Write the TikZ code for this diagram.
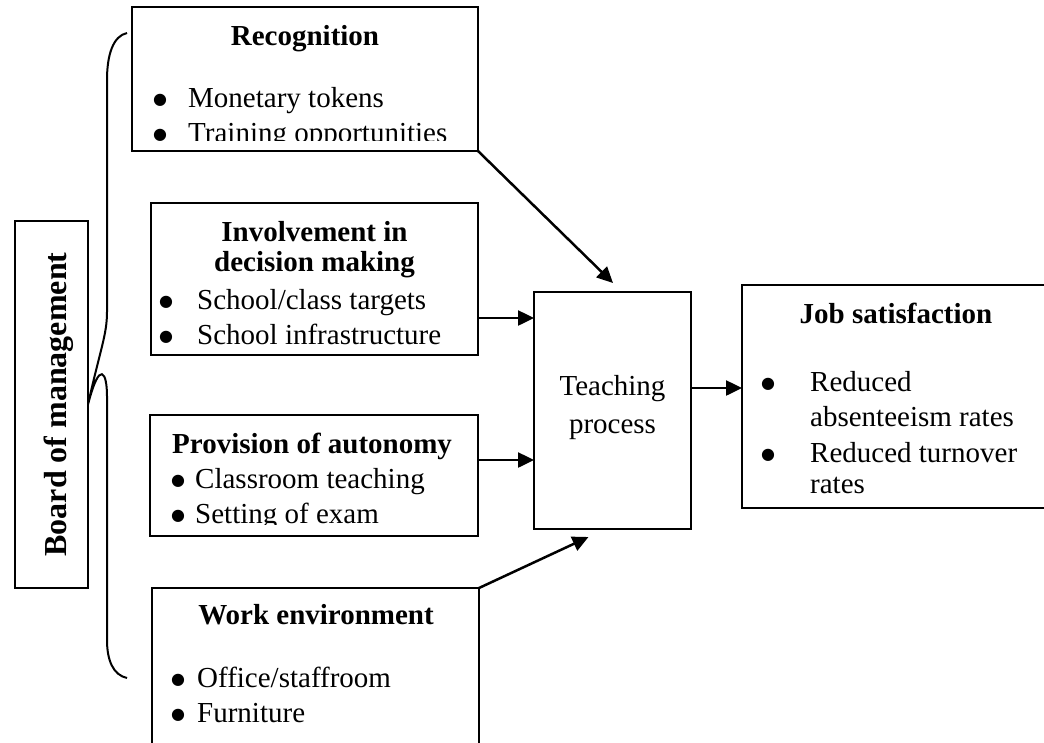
\documentclass[tikz,border=0pt]{standalone}
\usepackage{fontspec}
\setmainfont{Liberation Serif}
\newfontfamily\djvfont{DejaVu Sans}
\usetikzlibrary{arrows.meta,calc}
\begin{document}
\begin{tikzpicture}[x=1pt,y=-1pt,
  box/.style={draw, line width=2pt, inner sep=0pt, outer sep=0pt},
  txt/.style={inner sep=0pt, font=\fontsize{29}{29}\selectfont},
  btxt/.style={inner sep=0pt, font=\fontsize{29}{29}\selectfont\bfseries},
  bul/.style={inner sep=0pt, font=\djvfont\fontsize{16}{16}\selectfont, anchor=base, yshift=2.5pt},
  arr/.style={line width=2.5pt, -{Triangle[length=16pt,width=15pt]}},
  bracestyle/.style={line width=2pt}]
\useasboundingbox (0,0) rectangle (1044,742);
\clip (0,0) rectangle (1044,742);

% boxes
\node[box, minimum width=346pt, minimum height=144pt] (rec) at (305,79) {};
\node[box, minimum width=327pt, minimum height=152pt] (inv) at (314.5,279) {};
\node[box, minimum width=328pt, minimum height=121pt] (prov) at (314,475.5) {};
\node[box, minimum width=327pt, minimum height=182pt] (work) at (315.5,679) {};
\node[box, minimum width=73pt, minimum height=367pt] (board) at (51.5,404.5) {};
\node[box, minimum width=157pt, minimum height=237pt] (teach) at (612.5,410.5) {};
\node[box, minimum width=318pt, minimum height=223pt] (job) at (901,396.5) {};

% Board text
\node[inner sep=0pt, font=\fontsize{32}{32}\selectfont\bfseries, rotate=90, anchor=base] (boardT) at (66,404.5) {Board of management};

% Recognition
\begin{scope}
\clip (132,7) rectangle (478,140);
\node[btxt, anchor=base] (recT) at (305,45) {Recognition};
\node[bul] (recb1) at (160,107) {●};
\node[txt, anchor=base west] (rec1) at (188,107) {Monetary tokens};
\node[bul] (recb2) at (160,142) {●};
\node[txt, anchor=base west] (rec2) at (188,142) {Training opportunities};
\end{scope}

% Involvement
\begin{scope}
\clip (151,203) rectangle (478,345);
\node[btxt, anchor=base] (invT1) at (314.5,241) {Involvement in};
\node[btxt, anchor=base] (invT2) at (314.5,271) {decision making};
\node[bul] (invb1) at (166,309) {●};
\node[txt, anchor=base west] (inv1) at (197,309) {School/class targets};
\node[bul] (invb2) at (166,344) {●};
\node[txt, anchor=base west] (inv2) at (197,344) {School infrastructure};
\end{scope}

% Provision
\begin{scope}
\clip (150,415) rectangle (478,524);
\node[btxt, anchor=base west] (provT) at (172,453) {Provision of autonomy};
\node[bul] (provb1) at (178,488) {●};
\node[txt, anchor=base west] (prov1) at (195,488) {Classroom teaching};
\node[bul] (provb2) at (178,523) {●};
\node[txt, anchor=base west] (prov2) at (195,523) {Setting of exam};
\end{scope}

% Work environment
\node[btxt, anchor=base] (workT) at (316,624) {Work environment};
\node[bul] (workb1) at (178,687) {●};
\node[txt, anchor=base west] (work1) at (197,687) {Office/staffroom};
\node[bul] (workb2) at (178,722) {●};
\node[txt, anchor=base west] (work2) at (197,722) {Furniture};

% Teaching
\node[txt, anchor=base] (teachT1) at (612.5,395) {Teaching};
\node[txt, anchor=base] (teachT2) at (612.5,433) {process};

% Job satisfaction
\node[btxt, anchor=base] (jobT) at (896,323) {Job satisfaction};
\node[bul] (jobb1) at (768,391) {●};
\node[txt, anchor=base west] (job1) at (810,391) {Reduced};
\node[txt, anchor=base west] (job2) at (810,426) {absenteeism rates};
\node[bul] (jobb2) at (768,462) {●};
\node[txt, anchor=base west] (job3) at (810,462) {Reduced turnover};
\node[txt, anchor=base west] (job4) at (810,493) {rates};

% brace
\draw[bracestyle] (127,33) .. controls (113,36) and (107,55) .. (107,80)
  -- (107,312) .. controls (107,335) and (100,350) .. (board.east)
  .. controls (100,358) and (107,373) .. (107,396)
  -- (107,640) .. controls (107,660) and (113,675) .. (127,678);

% connectors
\coordinate (y1) at (0,318);
\coordinate (y2) at (0,460);
\coordinate (y3) at (0,388);
\draw[arr] (rec.south east) -- ($(teach.north)+(0.5,-9)$);
\draw[arr] (inv.east |- y1) -- (teach.west |- y1);
\draw[arr] (prov.east |- y2) -- (teach.west |- y2);
\draw[arr] (teach.east |- y3) -- (job.west |- y3);
\draw[arr] (work.north east) -- ($(teach.south)+(-24,8)$);
\end{tikzpicture}
\end{document}
